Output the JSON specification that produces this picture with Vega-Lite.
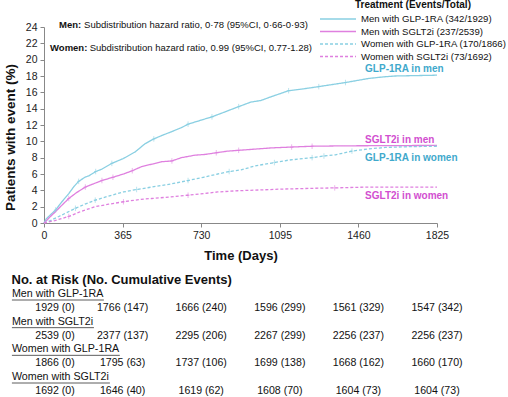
{
  "$schema": "https://vega.github.io/schema/vega-lite/v6.json",
  "padding": {"left": 3, "top": 0, "right": 0, "bottom": 0},
  "spacing": 11,
  "config": {
    "view": {"stroke": null},
    "font": "Liberation Sans",
    "axis": {"domainColor": "#888888", "tickColor": "#888888", "labelColor": "#222222", "labelFontSize": 10.5, "titleColor": "#111111", "grid": false, "labelFont": "Liberation Sans", "titleFont": "Liberation Sans", "tickSize": 4, "labelOverlap": false},
    "legend": {"labelFont": "Liberation Sans", "titleFont": "Liberation Sans"},
    "title": {"font": "Liberation Sans"}
  },
  "datasets": {
    "curves": [
      {"series": "Men with GLP-1RA (342/1929)", "day": 0, "pct": 0},
      {"series": "Men with GLP-1RA (342/1929)", "day": 10, "pct": 0.5},
      {"series": "Men with GLP-1RA (342/1929)", "day": 30, "pct": 1.0},
      {"series": "Men with GLP-1RA (342/1929)", "day": 54, "pct": 1.6, "cens": 1},
      {"series": "Men with GLP-1RA (342/1929)", "day": 80, "pct": 2.5},
      {"series": "Men with GLP-1RA (342/1929)", "day": 115, "pct": 3.6},
      {"series": "Men with GLP-1RA (342/1929)", "day": 140, "pct": 4.5},
      {"series": "Men with GLP-1RA (342/1929)", "day": 161, "pct": 5.1, "cens": 1},
      {"series": "Men with GLP-1RA (342/1929)", "day": 190, "pct": 5.6},
      {"series": "Men with GLP-1RA (342/1929)", "day": 210, "pct": 5.8},
      {"series": "Men with GLP-1RA (342/1929)", "day": 240, "pct": 6.3, "cens": 1},
      {"series": "Men with GLP-1RA (342/1929)", "day": 269, "pct": 6.6},
      {"series": "Men with GLP-1RA (342/1929)", "day": 315, "pct": 7.3, "cens": 1},
      {"series": "Men with GLP-1RA (342/1929)", "day": 369, "pct": 7.9},
      {"series": "Men with GLP-1RA (342/1929)", "day": 423, "pct": 8.7},
      {"series": "Men with GLP-1RA (342/1929)", "day": 469, "pct": 9.7},
      {"series": "Men with GLP-1RA (342/1929)", "day": 510, "pct": 10.3, "cens": 1},
      {"series": "Men with GLP-1RA (342/1929)", "day": 546, "pct": 10.7},
      {"series": "Men with GLP-1RA (342/1929)", "day": 594, "pct": 11.2},
      {"series": "Men with GLP-1RA (342/1929)", "day": 640, "pct": 11.7},
      {"series": "Men with GLP-1RA (342/1929)", "day": 669, "pct": 12.1, "cens": 1},
      {"series": "Men with GLP-1RA (342/1929)", "day": 730, "pct": 12.6},
      {"series": "Men with GLP-1RA (342/1929)", "day": 780, "pct": 13.0, "cens": 1},
      {"series": "Men with GLP-1RA (342/1929)", "day": 830, "pct": 13.5},
      {"series": "Men with GLP-1RA (342/1929)", "day": 904, "pct": 14.25, "cens": 1},
      {"series": "Men with GLP-1RA (342/1929)", "day": 960, "pct": 14.8},
      {"series": "Men with GLP-1RA (342/1929)", "day": 1007, "pct": 15.0},
      {"series": "Men with GLP-1RA (342/1929)", "day": 1059, "pct": 15.5},
      {"series": "Men with GLP-1RA (342/1929)", "day": 1136, "pct": 16.2, "cens": 1},
      {"series": "Men with GLP-1RA (342/1929)", "day": 1198, "pct": 16.4},
      {"series": "Men with GLP-1RA (342/1929)", "day": 1276, "pct": 16.7, "cens": 1},
      {"series": "Men with GLP-1RA (342/1929)", "day": 1350, "pct": 17.0},
      {"series": "Men with GLP-1RA (342/1929)", "day": 1400, "pct": 17.2, "cens": 1},
      {"series": "Men with GLP-1RA (342/1929)", "day": 1508, "pct": 17.7},
      {"series": "Men with GLP-1RA (342/1929)", "day": 1580, "pct": 17.9},
      {"series": "Men with GLP-1RA (342/1929)", "day": 1630, "pct": 18.0},
      {"series": "Men with GLP-1RA (342/1929)", "day": 1825, "pct": 18.1},
      {"series": "Men with SGLT2i (237/2539)", "day": 0, "pct": 0},
      {"series": "Men with SGLT2i (237/2539)", "day": 8, "pct": 0.2},
      {"series": "Men with SGLT2i (237/2539)", "day": 30, "pct": 0.8},
      {"series": "Men with SGLT2i (237/2539)", "day": 54, "pct": 1.4},
      {"series": "Men with SGLT2i (237/2539)", "day": 80, "pct": 2.1},
      {"series": "Men with SGLT2i (237/2539)", "day": 115, "pct": 3.0, "cens": 1},
      {"series": "Men with SGLT2i (237/2539)", "day": 150, "pct": 3.7},
      {"series": "Men with SGLT2i (237/2539)", "day": 192, "pct": 4.4, "cens": 1},
      {"series": "Men with SGLT2i (237/2539)", "day": 230, "pct": 4.8},
      {"series": "Men with SGLT2i (237/2539)", "day": 269, "pct": 5.2, "cens": 1},
      {"series": "Men with SGLT2i (237/2539)", "day": 320, "pct": 5.6, "cens": 1},
      {"series": "Men with SGLT2i (237/2539)", "day": 369, "pct": 6.0},
      {"series": "Men with SGLT2i (237/2539)", "day": 410, "pct": 6.4, "cens": 1},
      {"series": "Men with SGLT2i (237/2539)", "day": 453, "pct": 6.9},
      {"series": "Men with SGLT2i (237/2539)", "day": 500, "pct": 7.2},
      {"series": "Men with SGLT2i (237/2539)", "day": 546, "pct": 7.5},
      {"series": "Men with SGLT2i (237/2539)", "day": 594, "pct": 7.6, "cens": 1},
      {"series": "Men with SGLT2i (237/2539)", "day": 638, "pct": 8.0},
      {"series": "Men with SGLT2i (237/2539)", "day": 700, "pct": 8.3},
      {"series": "Men with SGLT2i (237/2539)", "day": 749, "pct": 8.4},
      {"series": "Men with SGLT2i (237/2539)", "day": 800, "pct": 8.6, "cens": 1},
      {"series": "Men with SGLT2i (237/2539)", "day": 853, "pct": 8.8},
      {"series": "Men with SGLT2i (237/2539)", "day": 904, "pct": 8.9, "cens": 1},
      {"series": "Men with SGLT2i (237/2539)", "day": 1007, "pct": 9.1},
      {"series": "Men with SGLT2i (237/2539)", "day": 1059, "pct": 9.2},
      {"series": "Men with SGLT2i (237/2539)", "day": 1150, "pct": 9.3, "cens": 1},
      {"series": "Men with SGLT2i (237/2539)", "day": 1245, "pct": 9.4, "cens": 1},
      {"series": "Men with SGLT2i (237/2539)", "day": 1400, "pct": 9.45},
      {"series": "Men with SGLT2i (237/2539)", "day": 1825, "pct": 9.5},
      {"series": "Women with GLP-1RA (170/1866)", "day": 0, "pct": 0},
      {"series": "Women with GLP-1RA (170/1866)", "day": 30, "pct": 0.3},
      {"series": "Women with GLP-1RA (170/1866)", "day": 69, "pct": 0.8},
      {"series": "Women with GLP-1RA (170/1866)", "day": 100, "pct": 1.2},
      {"series": "Women with GLP-1RA (170/1866)", "day": 146, "pct": 1.8, "cens": 1},
      {"series": "Women with GLP-1RA (170/1866)", "day": 190, "pct": 2.3},
      {"series": "Women with GLP-1RA (170/1866)", "day": 238, "pct": 2.8, "cens": 1},
      {"series": "Women with GLP-1RA (170/1866)", "day": 300, "pct": 3.3},
      {"series": "Women with GLP-1RA (170/1866)", "day": 369, "pct": 3.8},
      {"series": "Women with GLP-1RA (170/1866)", "day": 430, "pct": 4.1, "cens": 1},
      {"series": "Women with GLP-1RA (170/1866)", "day": 500, "pct": 4.4},
      {"series": "Women with GLP-1RA (170/1866)", "day": 594, "pct": 4.8},
      {"series": "Women with GLP-1RA (170/1866)", "day": 669, "pct": 5.2, "cens": 1},
      {"series": "Women with GLP-1RA (170/1866)", "day": 740, "pct": 5.6},
      {"series": "Women with GLP-1RA (170/1866)", "day": 807, "pct": 6.0},
      {"series": "Women with GLP-1RA (170/1866)", "day": 860, "pct": 6.3, "cens": 1},
      {"series": "Women with GLP-1RA (170/1866)", "day": 915, "pct": 6.5},
      {"series": "Women with GLP-1RA (170/1866)", "day": 981, "pct": 7.0},
      {"series": "Women with GLP-1RA (170/1866)", "day": 1070, "pct": 7.4, "cens": 1},
      {"series": "Women with GLP-1RA (170/1866)", "day": 1136, "pct": 7.7},
      {"series": "Women with GLP-1RA (170/1866)", "day": 1245, "pct": 8.0, "cens": 1},
      {"series": "Women with GLP-1RA (170/1866)", "day": 1300, "pct": 8.2, "cens": 1},
      {"series": "Women with GLP-1RA (170/1866)", "day": 1353, "pct": 8.35},
      {"series": "Women with GLP-1RA (170/1866)", "day": 1430, "pct": 8.8, "cens": 1},
      {"series": "Women with GLP-1RA (170/1866)", "day": 1500, "pct": 9.05},
      {"series": "Women with GLP-1RA (170/1866)", "day": 1585, "pct": 9.25},
      {"series": "Women with GLP-1RA (170/1866)", "day": 1700, "pct": 9.35},
      {"series": "Women with GLP-1RA (170/1866)", "day": 1825, "pct": 9.4},
      {"series": "Women with SGLT2i (73/1692)", "day": 0, "pct": 0},
      {"series": "Women with SGLT2i (73/1692)", "day": 50, "pct": 0.3},
      {"series": "Women with SGLT2i (73/1692)", "day": 115, "pct": 0.8, "cens": 1},
      {"series": "Women with SGLT2i (73/1692)", "day": 170, "pct": 1.4},
      {"series": "Women with SGLT2i (73/1692)", "day": 238, "pct": 2.0},
      {"series": "Women with SGLT2i (73/1692)", "day": 300, "pct": 2.3},
      {"series": "Women with SGLT2i (73/1692)", "day": 369, "pct": 2.6, "cens": 1},
      {"series": "Women with SGLT2i (73/1692)", "day": 450, "pct": 2.9},
      {"series": "Women with SGLT2i (73/1692)", "day": 500, "pct": 3.0},
      {"series": "Women with SGLT2i (73/1692)", "day": 590, "pct": 3.2},
      {"series": "Women with SGLT2i (73/1692)", "day": 669, "pct": 3.4, "cens": 1},
      {"series": "Women with SGLT2i (73/1692)", "day": 740, "pct": 3.6},
      {"series": "Women with SGLT2i (73/1692)", "day": 807, "pct": 3.8},
      {"series": "Women with SGLT2i (73/1692)", "day": 900, "pct": 3.95},
      {"series": "Women with SGLT2i (73/1692)", "day": 1007, "pct": 4.05},
      {"series": "Women with SGLT2i (73/1692)", "day": 1100, "pct": 4.15},
      {"series": "Women with SGLT2i (73/1692)", "day": 1250, "pct": 4.25},
      {"series": "Women with SGLT2i (73/1692)", "day": 1350, "pct": 4.3, "cens": 1},
      {"series": "Women with SGLT2i (73/1692)", "day": 1500, "pct": 4.4},
      {"series": "Women with SGLT2i (73/1692)", "day": 1825, "pct": 4.4}
    ],
    "labels": [
      {"label": "GLP-1RA in men", "drug": "GLP-1RA", "day": 1491, "pct": 18.8},
      {"label": "SGLT2i in men", "drug": "SGLT2i", "day": 1491, "pct": 10.2},
      {"label": "GLP-1RA in women", "drug": "GLP-1RA", "day": 1491, "pct": 8.0},
      {"label": "SGLT2i in women", "drug": "SGLT2i", "day": 1491, "pct": 3.25}
    ],
    "notes": [
      {"head": "Men:", "hday": 70, "body": "Subdistribution hazard ratio, 0·78 (95%CI, 0·66-0·93)", "bday": 186, "pct": 24.3},
      {"head": "Women:", "hday": 28, "body": "Subdistribution hazard ratio, 0.99 (95%CI, 0.77-1.28)", "bday": 212, "pct": 21.45}
    ],
    "risk": [
      {"group": "Men with GLP-1RA", "day": 0, "label": "1929 (0)"},
      {"group": "Men with GLP-1RA", "day": 365, "label": "1766 (147)"},
      {"group": "Men with GLP-1RA", "day": 730, "label": "1666 (240)"},
      {"group": "Men with GLP-1RA", "day": 1095, "label": "1596 (299)"},
      {"group": "Men with GLP-1RA", "day": 1460, "label": "1561 (329)"},
      {"group": "Men with GLP-1RA", "day": 1825, "label": "1547 (342)"},
      {"group": "Men with SGLT2i", "day": 0, "label": "2539 (0)"},
      {"group": "Men with SGLT2i", "day": 365, "label": "2377 (137)"},
      {"group": "Men with SGLT2i", "day": 730, "label": "2295 (206)"},
      {"group": "Men with SGLT2i", "day": 1095, "label": "2267 (299)"},
      {"group": "Men with SGLT2i", "day": 1460, "label": "2256 (237)"},
      {"group": "Men with SGLT2i", "day": 1825, "label": "2256 (237)"},
      {"group": "Women with GLP-1RA", "day": 0, "label": "1866 (0)"},
      {"group": "Women with GLP-1RA", "day": 365, "label": "1795 (63)"},
      {"group": "Women with GLP-1RA", "day": 730, "label": "1737 (106)"},
      {"group": "Women with GLP-1RA", "day": 1095, "label": "1699 (138)"},
      {"group": "Women with GLP-1RA", "day": 1460, "label": "1668 (162)"},
      {"group": "Women with GLP-1RA", "day": 1825, "label": "1660 (170)"},
      {"group": "Women with SGLT2i", "day": 0, "label": "1692 (0)"},
      {"group": "Women with SGLT2i", "day": 365, "label": "1646 (40)"},
      {"group": "Women with SGLT2i", "day": 730, "label": "1619 (62)"},
      {"group": "Women with SGLT2i", "day": 1095, "label": "1608 (70)"},
      {"group": "Women with SGLT2i", "day": 1460, "label": "1604 (73)"},
      {"group": "Women with SGLT2i", "day": 1825, "label": "1604 (73)"}
    ],
    "groups": [
      {"group": "Men with GLP-1RA"},
      {"group": "Men with SGLT2i"},
      {"group": "Women with GLP-1RA"},
      {"group": "Women with SGLT2i"}
    ]
  },
  "vconcat": [
    {
      "width": 393,
      "height": 196,
      "layer": [
        {
          "data": {"name": "curves"},
          "mark": {"type": "line", "strokeWidth": 1.3, "clip": false},
          "encoding": {
            "x": {"field": "day", "type": "quantitative", "scale": {"domain": [0, 1825], "nice": false},
              "axis": {"values": [0, 365, 730, 1095, 1460, 1825], "format": "d", "title": "Time (Days)", "titleFontWeight": "bold", "titleFontSize": 13, "titlePadding": 9, "labelPadding": 3, "labelFlush": false}},
            "y": {"field": "pct", "type": "quantitative", "scale": {"domain": [0, 24], "nice": false},
              "axis": {"values": [0, 2, 4, 6, 8, 10, 12, 14, 16, 18, 20, 22, 24], "tickCount": 13, "labelOverlap": false, "title": "Patients with event (%)", "titleFontWeight": "bold", "titleFontSize": 13.5, "titlePadding": 8, "labelPadding": 3, "titleY": 110}},
            "color": {"field": "series", "type": "nominal",
              "scale": {"domain": ["Men with GLP-1RA (342/1929)", "Men with SGLT2i (237/2539)", "Women with GLP-1RA (170/1866)", "Women with SGLT2i (73/1692)"], "range": ["#89cfe2", "#df80df", "#89cfe2", "#df80df"]},
              "legend": {"title": "Treatment (Events/Total)", "orient": "none", "legendX": 275, "legendY": -27, "symbolType": "M-1,0H6.2", "symbolSize": 100, "symbolStrokeWidth": 1.5, "labelFontSize": 9.6, "titleFontSize": 10, "titleFontWeight": "bold", "titleColor": "#111111", "labelColor": "#111111", "rowPadding": 1.5, "titlePadding": 3, "labelOffset": 30, "titleAnchor": "middle", "titleAlign": "center"}},
            "strokeDash": {"field": "series", "type": "nominal",
              "scale": {"domain": ["Men with GLP-1RA (342/1929)", "Men with SGLT2i (237/2539)", "Women with GLP-1RA (170/1866)", "Women with SGLT2i (73/1692)"], "range": [[1, 0], [1, 0], [3, 2], [3, 2]]}}
          }
        },
        {
          "data": {"name": "curves"},
          "transform": [{"filter": "datum.cens == 1"}],
          "mark": {"type": "point", "shape": "M0,-1V1M-0.6,0H0.6", "filled": false, "size": 30, "strokeWidth": 0.8},
          "encoding": {
            "x": {"field": "day", "type": "quantitative"},
            "y": {"field": "pct", "type": "quantitative"},
            "stroke": {"field": "series", "type": "nominal", "scale": {"domain": ["Men with GLP-1RA (342/1929)", "Men with SGLT2i (237/2539)", "Women with GLP-1RA (170/1866)", "Women with SGLT2i (73/1692)"], "range": ["#89cfe2", "#df80df", "#89cfe2", "#df80df"]}, "legend": null}
          }
        },
        {
          "data": {"name": "labels"},
          "mark": {"type": "text", "align": "left", "baseline": "middle", "fontSize": 10, "fontWeight": "bold"},
          "encoding": {
            "x": {"field": "day", "type": "quantitative"},
            "y": {"field": "pct", "type": "quantitative"},
            "text": {"field": "label"},
            "fill": {"field": "drug", "type": "nominal", "scale": {"domain": ["GLP-1RA", "SGLT2i"], "range": ["#3fa9cc", "#d24fd0"]}, "legend": null}
          }
        },
        {
          "data": {"name": "notes"},
          "mark": {"type": "text", "align": "left", "baseline": "middle", "fontSize": 9.5, "fontWeight": "bold", "color": "#111111"},
          "encoding": {
            "x": {"field": "hday", "type": "quantitative"},
            "y": {"field": "pct", "type": "quantitative"},
            "text": {"field": "head"}
          }
        },
        {
          "data": {"name": "notes"},
          "mark": {"type": "text", "align": "left", "baseline": "middle", "fontSize": 9.5, "color": "#111111"},
          "encoding": {
            "x": {"field": "bday", "type": "quantitative"},
            "y": {"field": "pct", "type": "quantitative"},
            "text": {"field": "body"}
          }
        }
      ]
    },
    {
      "width": 393,
      "height": 83,
      "title": {"text": "No. at Risk (No. Cumulative Events)", "anchor": "start", "frame": "bounds", "fontSize": 13, "fontWeight": "bold", "offset": 1, "color": "#111111"},
      "layer": [
        {
          "data": {"name": "risk"},
          "transform": [{"filter": "datum.day > 0"}],
          "mark": {"type": "text", "align": "center", "baseline": "middle", "fontSize": 10.6, "dy": 14, "color": "#111111"},
          "encoding": {
            "x": {"field": "day", "type": "quantitative", "scale": {"domain": [0, 1825], "nice": false}, "axis": null},
            "y": {"field": "group", "type": "nominal", "scale": {"type": "point", "padding": 0, "domain": ["Men with GLP-1RA", "Men with SGLT2i", "Women with GLP-1RA", "Women with SGLT2i"]}, "axis": null},
            "text": {"field": "label"}
          }
        },
        {
          "data": {"name": "risk"},
          "transform": [{"filter": "datum.day == 0"}],
          "mark": {"type": "text", "align": "center", "baseline": "middle", "fontSize": 10.6, "dx": 11, "dy": 14, "color": "#111111"},
          "encoding": {
            "x": {"field": "day", "type": "quantitative"},
            "y": {"field": "group", "type": "nominal"},
            "text": {"field": "label"}
          }
        },
        {
          "data": {"name": "groups"},
          "mark": {"type": "text", "align": "left", "baseline": "middle", "fontSize": 10.7, "color": "#111111"},
          "encoding": {
            "x": {"datum": -149, "type": "quantitative"},
            "y": {"field": "group", "type": "nominal"},
            "text": {"field": "group"}
          }
        },
        {
          "data": {"name": "groups"},
          "transform": [{"filter": "datum.group == 'Men with GLP-1RA'"}],
          "mark": {"type": "rule", "yOffset": 6, "strokeWidth": 0.8, "color": "#333333"},
          "encoding": {"x": {"datum": -149, "type": "quantitative"}, "x2": {"datum": 278}, "y": {"field": "group", "type": "nominal"}}
        },
        {
          "data": {"name": "groups"},
          "transform": [{"filter": "datum.group == 'Men with SGLT2i'"}],
          "mark": {"type": "rule", "yOffset": 6, "strokeWidth": 0.8, "color": "#333333"},
          "encoding": {"x": {"datum": -149, "type": "quantitative"}, "x2": {"datum": 232}, "y": {"field": "group", "type": "nominal"}}
        },
        {
          "data": {"name": "groups"},
          "transform": [{"filter": "datum.group == 'Women with GLP-1RA'"}],
          "mark": {"type": "rule", "yOffset": 6, "strokeWidth": 0.8, "color": "#333333"},
          "encoding": {"x": {"datum": -149, "type": "quantitative"}, "x2": {"datum": 352}, "y": {"field": "group", "type": "nominal"}}
        },
        {
          "data": {"name": "groups"},
          "transform": [{"filter": "datum.group == 'Women with SGLT2i'"}],
          "mark": {"type": "rule", "yOffset": 6, "strokeWidth": 0.8, "color": "#333333"},
          "encoding": {"x": {"datum": -149, "type": "quantitative"}, "x2": {"datum": 306}, "y": {"field": "group", "type": "nominal"}}
        }
      ]
    }
  ]
}
